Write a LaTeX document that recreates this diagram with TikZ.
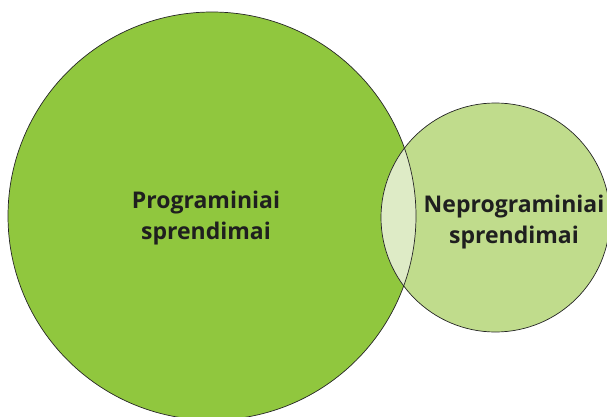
\documentclass[tikz,border=0pt]{standalone}
\usepackage{fontspec}
\setsansfont{Open Sans}
\definecolor{bigg}{RGB}{144,199,62}
\definecolor{smallg}{RGB}{192,220,140}
\definecolor{interg}{RGB}{222,235,198}
\begin{document}
\begin{tikzpicture}[x=1pt,y=-1pt,
  ring/.style={draw=black!85,line width=0.7pt},
  lbl/.style={font=\sffamily\bfseries\fontsize{23}{31}\selectfont,align=center,text=black!88}]
\useasboundingbox (0,0) rectangle (607,417);
\fill[bigg] (212,216) circle (204);
\fill[smallg] (495.5,217.5) circle (114.5);
\begin{scope}
  \clip (212,216) circle (204);
  \fill[interg] (495.5,217.5) circle (114.5);
\end{scope}
\draw[ring] (212,216) circle (204);
\draw[ring] (495.5,217.5) circle (114.5);
\node[lbl] (prog) at (206,218) {Programiniai\\sprendimai};
\node[lbl] (neprog) at (514,222) {Neprograminiai\\sprendimai};
\end{tikzpicture}
\end{document}
